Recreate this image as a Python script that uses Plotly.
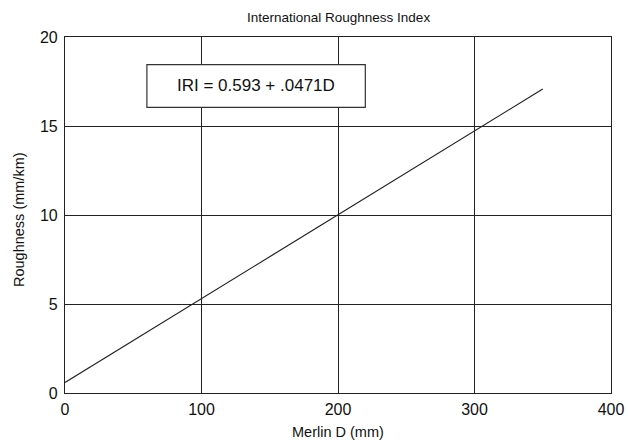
import plotly.graph_objects as go

# Data
intercept = 0.593
slope = 0.0471
d_values = [0, 350]
iri_values = [intercept + slope * d for d in d_values]
x_ticks = [0, 100, 200, 300, 400]
y_ticks = [0, 5, 10, 15, 20]
equation_label = "IRI = 0.593 + .0471D"
chart_title = "International Roughness Index"
x_title = "Merlin D (mm)"
y_title = "Roughness (mm/km)"

FAM = "Liberation Sans, Arial, sans-serif"
font = dict(family=FAM, color="#111")

fig = go.Figure()
fig.add_trace(go.Scatter(x=d_values, y=iri_values, mode="lines",
                         line=dict(color="#222", width=1.2), showlegend=False,
                         hoverinfo="skip"))

fig.add_shape(type="rect", xref="x", yref="y", x0=60, x1=220, y0=16.05, y1=18.45,
              line=dict(color="#333", width=1.2), fillcolor="white", layer="above")
fig.add_annotation(x=140, y=17.25, xref="x", yref="y", text=equation_label,
                   showarrow=False, font=dict(size=17, **font),
                   xanchor="center", yanchor="middle")

# titles as annotations for exact placement (pixel positions converted below)
fig.add_annotation(x=338, y=443 - 18, xref="paper", yref="paper", text=chart_title,
                   showarrow=False, font=dict(size=13.5, **font))
fig.add_annotation(x=338, y=443 - 432, xref="paper", yref="paper", text=x_title,
                   showarrow=False, font=dict(size=14.5, **font))
fig.add_annotation(x=19, y=443 - 220, xref="paper", yref="paper", text=y_title,
                   textangle=-90, showarrow=False, font=dict(size=14.5, **font))

L, R, T, B = 65, 17, 37, 50
W, H = 628, 443
pw, ph = W - L - R, H - T - B
for ann in fig.layout.annotations:
    if ann.xref == "paper":
        ann.x = (ann.x - L) / pw
        ann.y = (ann.y - B) / ph
        ann.xanchor = "center"
        ann.yanchor = "middle"

fig.update_layout(
    width=W, height=H,
    margin=dict(l=L, r=R, t=T, b=B, autoexpand=False),
    paper_bgcolor="white", plot_bgcolor="white",
    font=font,
    xaxis=dict(range=[0, 400], tickvals=x_ticks, ticks="", showgrid=True,
               gridcolor="#222", gridwidth=1, showline=True, linecolor="#222",
               linewidth=1.2, mirror=True, zeroline=False, automargin=False,
               ticklabelstandoff=2,
               tickfont=dict(size=16, **font)),
    yaxis=dict(range=[0, 20], tickvals=y_ticks, ticks="", showgrid=True,
               gridcolor="#222", gridwidth=1, showline=True, linecolor="#222",
               linewidth=1.2, mirror=True, zeroline=False, automargin=False,
               ticklabelstandoff=3,
               tickfont=dict(size=16, **font)),
)

fig.write_html("out.html")
